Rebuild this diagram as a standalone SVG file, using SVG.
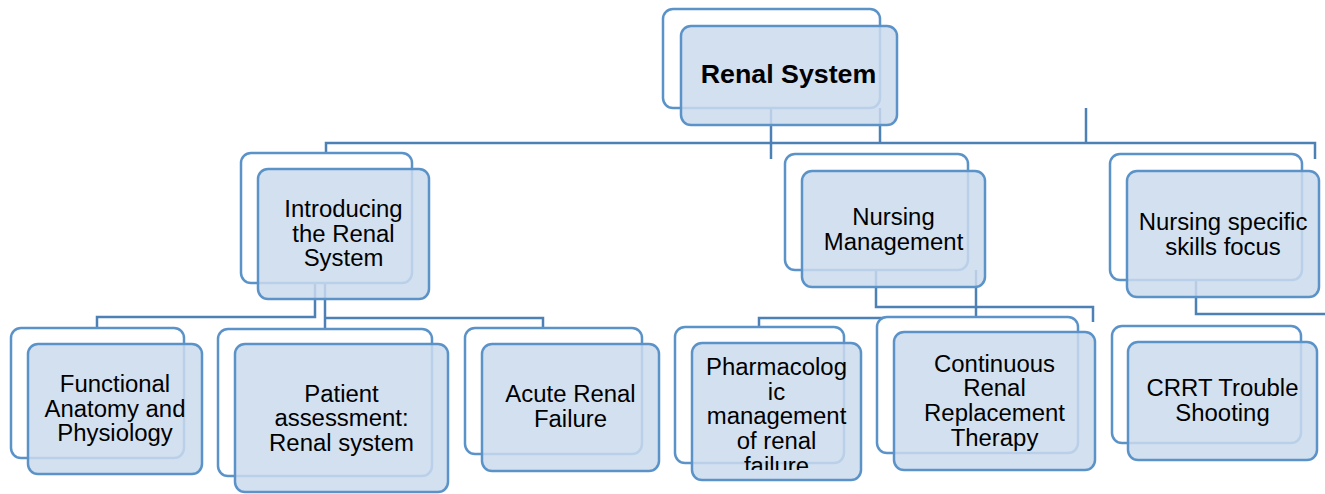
<svg xmlns="http://www.w3.org/2000/svg" width="1325" height="494" viewBox="0 0 1325 494">
<style>
.conn{fill:none;stroke:#4d80b4;stroke-width:2.5}
.back{fill:#fff;stroke:#5b93c9;stroke-width:2.5}
.front{fill:#cbdaed;fill-opacity:0.85;stroke:#5b93c9;stroke-width:2.5}
.t{font-family:"Liberation Sans",Arial,sans-serif;font-size:23px;fill:#000;text-anchor:middle}
.tb{font-family:"Liberation Sans",Arial,sans-serif;font-size:25.5px;font-weight:bold;fill:#000;text-anchor:middle}
</style>
<defs>
<clipPath id="clipPharm"><rect x="692" y="343" width="169" height="127"/></clipPath>
</defs>
<rect width="1325" height="494" fill="#fff"/>
<g id="connectors">
<path class="conn" d="M326,152 V143 H1315 V159"/>
<path class="conn" d="M771,108 V159"/>
<path class="conn" d="M880,108 V143"/>
<path class="conn" d="M1086,108 V143"/>
<path class="conn" d="M315,283 V317 H97 V328"/>
<path class="conn" d="M325,283 V328"/>
<path class="conn" d="M325,318 H543 V328"/>
<path class="conn" d="M876,270 V307 H1093 V322"/>
<path class="conn" d="M976,270 V317"/>
<path class="conn" d="M759,327 V318 H976"/>
<path class="conn" d="M1196,280 V314 H1325"/>
</g>
<g id="node-renal-system">
<rect class="back" x="663" y="9" width="217" height="99" rx="10"/>
<rect class="front" x="681" y="26" width="216" height="99" rx="10"/>
<text class="tb" transform="translate(788.5,0) scale(1.05,1)" x="0" y="83.5">Renal System</text>
</g>
<g id="node-introducing">
<rect class="back" x="241" y="153" width="171" height="130" rx="10"/>
<rect class="front" x="258" y="169" width="171" height="130" rx="10"/>
<text class="t" transform="translate(343.5,0) scale(1.04,1)" y="217"><tspan x="0">Introducing</tspan><tspan x="0" dy="24.7">the Renal</tspan><tspan x="0" dy="24.7">System</tspan></text>
</g>
<g id="node-nursing-management">
<rect class="back" x="785" y="154" width="183" height="116" rx="10"/>
<rect class="front" x="802" y="171" width="183" height="116" rx="10"/>
<text class="t" transform="translate(893.5,0) scale(1.04,1)" y="225.5"><tspan x="0">Nursing</tspan><tspan x="0" dy="24.7">Management</tspan></text>
</g>
<g id="node-nursing-skills">
<rect class="back" x="1110" y="154" width="192" height="126" rx="10"/>
<rect class="front" x="1127" y="171" width="192" height="126" rx="10"/>
<text class="t" transform="translate(1223,0) scale(1.04,1)" y="230"><tspan x="0">Nursing specific</tspan><tspan x="0" dy="24.7">skills focus</tspan></text>
</g>
<g id="node-functional-anatomy">
<rect class="back" x="11" y="328" width="173" height="130" rx="10"/>
<rect class="front" x="28" y="344" width="174" height="130" rx="10"/>
<text class="t" transform="translate(115,0) scale(1.04,1)" y="392"><tspan x="0">Functional</tspan><tspan x="0" dy="24.7">Anatomy and</tspan><tspan x="0" dy="24.7">Physiology</tspan></text>
</g>
<g id="node-patient-assessment">
<rect class="back" x="218" y="329" width="214" height="147" rx="10"/>
<rect class="front" x="235" y="344" width="213" height="148" rx="10"/>
<text class="t" transform="translate(341.5,0) scale(1.04,1)" y="401.7"><tspan x="0">Patient</tspan><tspan x="0" dy="24.7">assessment:</tspan><tspan x="0" dy="24.7">Renal system</tspan></text>
</g>
<g id="node-acute-renal-failure">
<rect class="back" x="465" y="328" width="177" height="126" rx="10"/>
<rect class="front" x="482" y="344" width="177" height="127" rx="10"/>
<text class="t" transform="translate(570.5,0) scale(1.04,1)" y="402.5"><tspan x="0">Acute Renal</tspan><tspan x="0" dy="24.7">Failure</tspan></text>
</g>
<g id="node-pharmacologic">
<rect class="back" x="675" y="327" width="169" height="136" rx="10"/>
<rect class="front" x="692" y="343" width="169" height="137" rx="10"/>
<g clip-path="url(#clipPharm)">
<text class="t" transform="translate(776.5,0) scale(1.04,1)" y="375"><tspan x="0">Pharmacolog</tspan><tspan x="0" dy="24.7">ic</tspan><tspan x="0" dy="24.7">management</tspan><tspan x="0" dy="24.7">of renal</tspan><tspan x="0" dy="24.7">failure</tspan></text>
</g>
</g>
<g id="node-crrt">
<rect class="back" x="877" y="317" width="201" height="136" rx="10"/>
<rect class="front" x="894" y="332" width="201" height="138" rx="10"/>
<text class="t" transform="translate(994.5,0) scale(1.04,1)" y="371.7"><tspan x="0">Continuous</tspan><tspan x="0" dy="24.7">Renal</tspan><tspan x="0" dy="24.7">Replacement</tspan><tspan x="0" dy="24.7">Therapy</tspan></text>
</g>
<g id="node-crrt-troubleshooting">
<rect class="back" x="1112" y="326" width="189" height="117" rx="10"/>
<rect class="front" x="1128" y="342" width="189" height="118" rx="10"/>
<text class="t" transform="translate(1222.5,0) scale(1.04,1)" y="396"><tspan x="0">CRRT Trouble</tspan><tspan x="0" dy="24.7">Shooting</tspan></text>
</g>
</svg>
